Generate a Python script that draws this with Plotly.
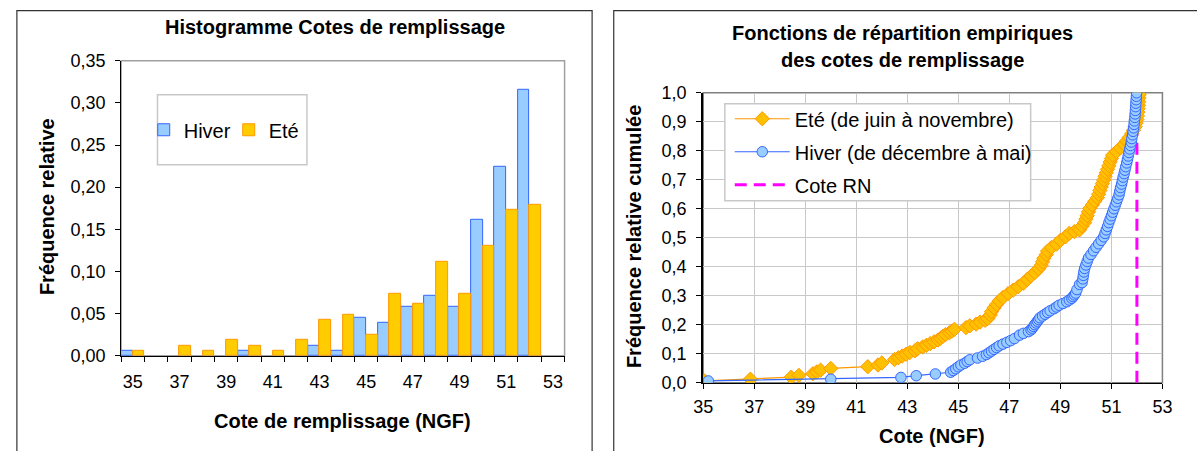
import plotly.graph_objects as go

W, H = 1197, 451

# ---------------- data ----------------
hist_categories = list(range(35, 54))
hist_tick_labels = ["35", "37", "39", "41", "43", "45", "47", "49", "51", "53"]
hiver_freq = [0.006, None, None, None, None, 0.006, None, None, 0.012, 0.006,
              0.045, 0.039, 0.0585, 0.071, 0.0585, 0.161, 0.2245, 0.315, None]
ete_freq = [0.006, None, 0.012, 0.006, 0.019, 0.012, 0.006, 0.019, 0.043, 0.049,
            0.025, 0.074, 0.062, 0.112, 0.074, 0.130, 0.173, 0.179, None]

ete_cote = [35.05, 36.85, 38.45, 38.75, 39.3, 39.45, 39.6, 40.0, 41.45, 41.85,
            42.0, 42.5, 42.65, 42.8, 42.95, 43.1, 43.3, 43.4, 43.6, 43.75,
            43.9, 44.05, 44.2, 44.3, 44.4, 44.5, 44.65, 44.75, 44.85, 45.3,
            45.45, 45.7, 45.85, 46.05, 46.15, 46.25, 46.3, 46.4, 46.5, 46.6,
            46.75, 46.95, 47.15, 47.35, 47.55, 47.7, 47.85, 48.0, 48.15, 48.25,
            48.3, 48.35, 48.45, 48.5, 48.65, 48.85, 49.0, 49.2, 49.35, 49.55,
            49.75, 49.85, 49.95, 50.0, 50.05, 50.1, 50.15, 50.25, 50.35, 50.45,
            50.5, 50.55, 50.6, 50.65, 50.7, 50.75, 50.8, 50.85, 50.9, 50.95,
            51.0, 51.05, 51.2, 51.35, 51.5, 51.6, 51.7, 51.8, 51.87, 51.93,
            51.97, 52.0, 52.02, 52.04, 52.05, 52.06, 52.07, 52.08, 52.09]
ete_cum = [0.006, 0.012, 0.019, 0.025, 0.031, 0.037, 0.043, 0.049, 0.055, 0.061,
           0.068, 0.080, 0.086, 0.092, 0.098, 0.104, 0.110, 0.117, 0.123, 0.129,
           0.135, 0.141, 0.147, 0.153, 0.160, 0.166, 0.172, 0.178, 0.184, 0.190,
           0.196, 0.202, 0.209, 0.215, 0.221, 0.233, 0.245, 0.258, 0.270, 0.282,
           0.294, 0.307, 0.319, 0.331, 0.343, 0.356, 0.368, 0.380, 0.393, 0.405,
           0.417, 0.429, 0.442, 0.454, 0.466, 0.478, 0.491, 0.503, 0.515, 0.521,
           0.527, 0.540, 0.552, 0.564, 0.576, 0.589, 0.601, 0.613, 0.626, 0.638,
           0.650, 0.663, 0.675, 0.687, 0.699, 0.712, 0.724, 0.736, 0.748, 0.761,
           0.773, 0.785, 0.797, 0.810, 0.822, 0.834, 0.846, 0.859, 0.871, 0.883,
           0.896, 0.908, 0.920, 0.933, 0.945, 0.957, 0.969, 0.982, 0.994]

hiver_cote = [35.2, 40.0, 42.75, 43.35, 44.1, 44.7, 44.8, 44.9, 45.0, 45.1,
              45.25, 45.35, 45.45, 45.75, 45.95, 46.1, 46.2, 46.3, 46.4, 46.5,
              46.6, 46.75, 46.9, 47.05, 47.2, 47.4, 47.55, 47.75, 47.85, 47.9,
              47.95, 48.0, 48.05, 48.1, 48.15, 48.2, 48.3, 48.4, 48.5, 48.6,
              48.75, 48.85, 48.95, 49.1, 49.25, 49.35, 49.45, 49.5, 49.55, 49.6,
              49.65, 49.75, 49.85, 49.88, 49.9, 49.92, 49.95, 50.0, 50.05, 50.1,
              50.2, 50.3, 50.4, 50.5, 50.6, 50.7, 50.75, 50.8, 50.85, 50.9,
              50.95, 51.0, 51.05, 51.1, 51.15, 51.2, 51.25, 51.3, 51.33, 51.36,
              51.4, 51.43, 51.46, 51.5, 51.53, 51.56, 51.6, 51.63, 51.66, 51.69,
              51.72, 51.75, 51.78, 51.8, 51.83, 51.85, 51.87, 51.89, 51.9, 51.92,
              51.93, 51.94, 51.95, 51.96, 51.97, 51.98, 51.99]
hiver_cum = [0.006, 0.012, 0.018, 0.024, 0.030, 0.036, 0.042, 0.048, 0.055, 0.061,
             0.067, 0.073, 0.079, 0.085, 0.091, 0.097, 0.103, 0.109, 0.115, 0.121,
             0.127, 0.133, 0.139, 0.145, 0.152, 0.164, 0.170, 0.176, 0.182, 0.188,
             0.194, 0.200, 0.206, 0.212, 0.218, 0.224, 0.230, 0.236, 0.242, 0.248,
             0.255, 0.261, 0.267, 0.273, 0.279, 0.285, 0.291, 0.297, 0.303, 0.309,
             0.321, 0.339, 0.345, 0.358, 0.370, 0.382, 0.394, 0.406, 0.418, 0.430,
             0.442, 0.455, 0.467, 0.479, 0.491, 0.503, 0.515, 0.527, 0.539, 0.552,
             0.564, 0.576, 0.588, 0.600, 0.612, 0.624, 0.636, 0.648, 0.661, 0.673,
             0.685, 0.697, 0.709, 0.721, 0.733, 0.745, 0.758, 0.770, 0.782, 0.794,
             0.806, 0.818, 0.830, 0.842, 0.855, 0.867, 0.879, 0.891, 0.903, 0.915,
             0.927, 0.939, 0.952, 0.964, 0.976, 0.988, 1.0]

cote_rn = 52.0
cote_rn_y = [0.0, 1.0]

# ---------------- styling helpers ----------------
FONT = "Liberation Sans, Arial, sans-serif"
TICK_FS = 18
TITLE_FS = 20


def px(x):
    return x / W


def py(y):
    # screen-row -> paper fraction (with a small correction for the capture)
    yy = max((y - 11.2) / 0.956, 0.6)
    return 1 - yy / H


BLUE_FILL = "#99CCFF"
BLUE_LINE = "#3366FF"
ORANGE_FILL = "#FFCC00"
ORANGE_LINE = "#FF9900"

fig = go.Figure()

# ---------------- left: histogram ----------------
fig.add_trace(go.Bar(
    x=hist_categories, y=hiver_freq, name="Hiver",
    marker=dict(color=BLUE_FILL, line=dict(color=BLUE_LINE, width=1)),
    xaxis="x", yaxis="y", legend="legend", offsetgroup="h"))
fig.add_trace(go.Bar(
    x=hist_categories, y=ete_freq, name="Eté",
    marker=dict(color=ORANGE_FILL, line=dict(color=ORANGE_LINE, width=1)),
    xaxis="x", yaxis="y", legend="legend", offsetgroup="e"))

# ---------------- right: ECDF ----------------
fig.add_trace(go.Scatter(
    x=[cote_rn, cote_rn], y=cote_rn_y, mode="lines", name="Cote RN",
    line=dict(color="#FF00FF", width=3, dash="12px,7px"),
    xaxis="x2", yaxis="y2", legend="legend2", legendrank=3, legendgroup="c"))
fig.add_trace(go.Scatter(
    x=ete_cote, y=ete_cum, mode="lines+markers", name="Eté (de juin à novembre)",
    line=dict(color=ORANGE_LINE, width=1.2),
    marker=dict(symbol="diamond", size=11, color="#FFC000",
                line=dict(color=ORANGE_LINE, width=1)),
    xaxis="x2", yaxis="y2", legend="legend2", legendrank=1, legendgroup="a"))
fig.add_trace(go.Scatter(
    x=hiver_cote, y=hiver_cum, mode="lines+markers", name="Hiver (de décembre à mai)",
    line=dict(color=BLUE_LINE, width=1.2),
    marker=dict(symbol="circle", size=10.5, color=BLUE_FILL,
                line=dict(color=BLUE_LINE, width=1)),
    xaxis="x2", yaxis="y2", legend="legend2", legendrank=2, legendgroup="b"))

tickfont = dict(family=FONT, size=TICK_FS, color="black")

fig.update_layout(
    width=W, height=H, autosize=False,
    margin=dict(l=0, r=0, t=0, b=0, pad=0),
    paper_bgcolor="white", plot_bgcolor="white",
    separators=", ",
    barmode="group", bargap=0, bargroupgap=0,
    font=dict(family=FONT, color="black"),
    xaxis=dict(
        domain=[px(113), px(564)], anchor="y",
        range=[34.5, 53.5], tickmode="array",
        tickvals=[int(t) for t in hist_tick_labels], ticktext=hist_tick_labels,
        ticks="outside", ticklen=10, tickcolor="rgba(0,0,0,0)",
        minor=dict(tickmode="array",
                   tickvals=[c - 0.5 for c in hist_categories] + [hist_categories[-1] + 0.5],
                   ticks="outside", ticklen=5, tickcolor="black", tickwidth=1),
        showline=True, linecolor="black", linewidth=1,
        showgrid=False, zeroline=False, tickfont=tickfont),
    yaxis=dict(
        domain=[py(357), py(62)], anchor="x",
        range=[0, 0.35], dtick=0.05, tickformat=".2f",
        ticks="outside", ticklen=5, tickcolor="black", ticklabelstandoff=6,
        showline=True, linecolor="black", linewidth=1,
        showgrid=False, zeroline=False, tickfont=tickfont),
    xaxis2=dict(
        domain=[px(705), px(1172)], anchor="y2",
        range=[35, 53], dtick=2, tick0=35,
        ticks="outside", ticklen=5, tickcolor="black", ticklabelstandoff=3,
        showline=True, linecolor="black", linewidth=1,
        showgrid=True, gridcolor="#C8C8C8", gridwidth=1,
        zeroline=False, tickfont=tickfont),
    yaxis2=dict(
        domain=[py(384), py(94)], anchor="x2",
        range=[0, 1], dtick=0.1, tickformat=".1f",
        ticks="outside", ticklen=5, tickcolor="black", ticklabelstandoff=6,
        showline=True, linecolor="black", linewidth=2,
        showgrid=True, gridcolor="#C8C8C8", gridwidth=1,
        zeroline=False, tickfont=tickfont),
    legend=dict(
        orientation="h", x=px(136), y=py(131), xanchor="left", yanchor="middle",
        bgcolor="rgba(0,0,0,0)", borderwidth=0,
        font=dict(family=FONT, size=20, color="black"),
        itemwidth=30, entrywidth=40, entrywidthmode="pixels", traceorder="normal"),
    legend2=dict(
        orientation="v", x=px(732), y=py(153), xanchor="left", yanchor="middle",
        bgcolor="rgba(0,0,0,0)", borderwidth=0,
        font=dict(family=FONT, size=20, color="black"),
        itemwidth=55, tracegroupgap=4, traceorder="grouped"),
    showlegend=True,
)

shapes = [
    # outer panel frames
    dict(type="rect", xref="paper", yref="paper", x0=px(7), x1=px(592), y0=-0.05, y1=py(9),
         line=dict(color="#333333", width=1.2), layer="below"),
    dict(type="rect", xref="paper", yref="paper", x0=px(614), x1=1.05, y0=-0.05, y1=py(7),
         line=dict(color="#333333", width=1.2), layer="below"),
    # plot area borders (grey top/right)
    dict(type="rect", xref="x domain", yref="y domain", x0=0, x1=1, y0=0, y1=1,
         line=dict(color="#A0A0A0", width=1.5), layer="below"),
    dict(type="rect", xref="x2 domain", yref="y2 domain", x0=0, x1=1, y0=0, y1=1,
         line=dict(color="#808080", width=1.5), layer="below"),
    # legend boxes
    dict(type="rect", xref="paper", yref="paper", x0=px(150), x1=px(302), y0=py(166), y1=py(96),
         line=dict(color="#C8C8C8", width=1.5), fillcolor="white", layer="below"),
    dict(type="rect", xref="paper", yref="paper", x0=px(727), x1=px(1038), y0=py(202), y1=py(105),
         line=dict(color="#C8C8C8", width=1.5), fillcolor="white", layer="above"),
]
fig.update_layout(shapes=shapes)

bold = dict(family=FONT, size=TITLE_FS, color="black", weight="bold")
annotations = [
    dict(text="Histogramme Cotes de remplissage", x=px(331), y=py(28)),
    dict(text="Fonctions de répartition empiriques", x=px(908), y=py(34)),
    dict(text="des cotes de remplissage", x=px(908), y=py(61)),
    dict(text="Cote de remplissage (NGF)", x=px(338), y=py(422)),
    dict(text="Cote (NGF)", x=px(938), y=py(437)),
    dict(text="Fréquence relative", x=px(37), y=py(208), textangle=-90),
    dict(text="Fréquence relative cumulée", x=px(634), y=py(238), textangle=-90),
]
for a in annotations:
    a.update(xref="paper", yref="paper", showarrow=False, font=bold,
             xanchor="center", yanchor="middle")
fig.update_layout(annotations=annotations)

page_fix = (
    "document.documentElement.style.margin='0';"
    "document.documentElement.style.overflow='hidden';"
    "document.body.style.margin='0';"
    "document.body.style.overflow='hidden';"
    "var gd=document.querySelector('.plotly-graph-div');"
    "gd.style.position='fixed';gd.style.left='0px';gd.style.top='0px';"
)

fig.write_html(
    "out.html",
    config={"displayModeBar": False},
    post_script=page_fix,
)
